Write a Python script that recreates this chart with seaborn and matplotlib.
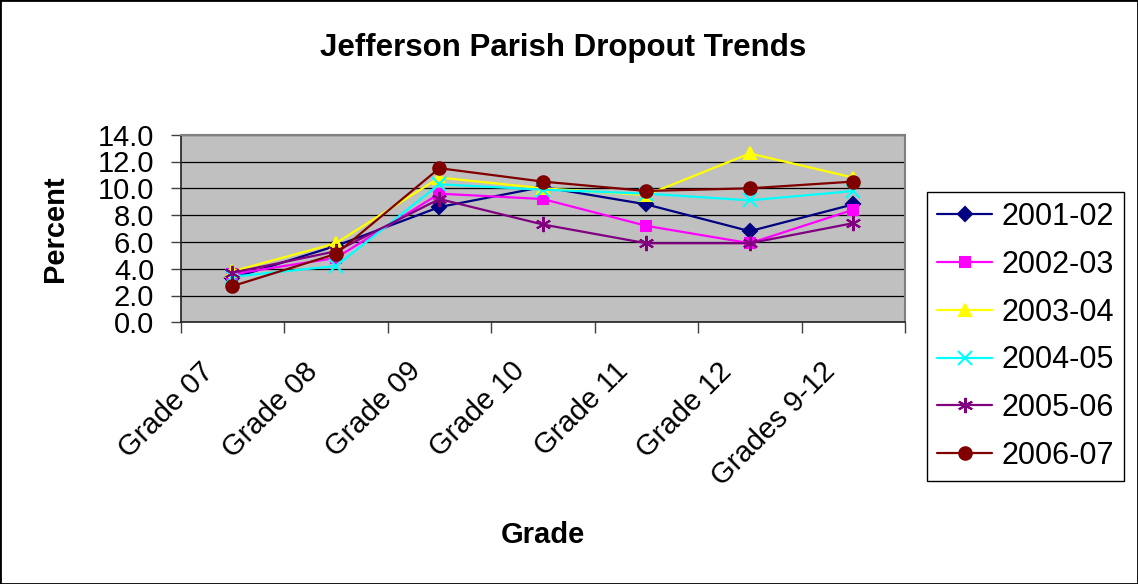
import numpy as np
import pandas as pd
import matplotlib
matplotlib.use("Agg")
import matplotlib.pyplot as plt
import seaborn as sns
from matplotlib.patches import Rectangle
from matplotlib.transforms import ScaledTranslation

# dati
grades = ['Grade 07', 'Grade 08', 'Grade 09', 'Grade 10', 'Grade 11', 'Grade 12', 'Grades 9-12']
years = ['2001-02', '2002-03', '2003-04', '2004-05', '2005-06', '2006-07']

y2001 = [3.3, 5.7, 8.6, 10.1, 8.8, 6.8, 8.8]
y2002 = [3.6, 4.8, 9.6, 9.2, 7.2, 5.9, 8.4]
y2003 = [3.8, 5.9, 10.8, 10.0, 9.5, 12.6, 10.8]
y2004 = [3.4, 4.2, 10.3, 9.9, 9.6, 9.1, 9.8]
y2005 = [3.7, 5.3, 9.2, 7.3, 5.9, 5.9, 7.4]
y2006 = [2.7, 5.1, 11.5, 10.5, 9.8, 10.0, 10.5]

series = [y2001, y2002, y2003, y2004, y2005, y2006]
colors = ['#000080', '#FF00FF', '#FFFF00', '#00FFFF', '#800080', '#800000']
markers = ['D', 's', '^', 'x', (6, 2, 0), 'o']
msizes = [7, 7.5, 9, 10, 11, 9]

sns.set_theme(style='white')
plt.rcParams['font.family'] = ['Liberation Sans', 'DejaVu Sans']
plt.rcParams['text.color'] = 'black'
plt.rcParams['xtick.color'] = 'black'
plt.rcParams['ytick.color'] = 'black'
plt.rcParams['axes.labelcolor'] = 'black'

fig = plt.figure(figsize=(11.38, 5.84), dpi=100)
ax = fig.add_axes([180.7 / 1138, 1 - 322.3 / 584, (905 - 180.7) / 1138, (322.3 - 134.7) / 584])
ax.set_facecolor('#C0C0C0')

for yr, vals, c, m, ms in zip(years, series, colors, markers, msizes):
    df = pd.DataFrame({'Grade': np.arange(len(grades)), 'Percent': vals})
    sns.lineplot(data=df, x='Grade', y='Percent', ax=ax, color=c, marker=m,
                 markersize=ms, markeredgecolor=c, markeredgewidth=1.5,
                 linewidth=1.6, label=yr, zorder=3)

# asse y
ax.set_ylim(0, 14)
ax.set_yticks(np.arange(0, 15, 2))
ax.set_yticklabels([f'{v:.1f}' for v in np.arange(0, 15, 2)], fontsize=21)
ax.yaxis.grid(True, color='black', linewidth=0.9)
ax.set_axisbelow(True)

# asse x: tacche ai bordi delle categorie, etichette al centro
ax.set_xlim(-0.5, len(grades) - 0.5)
ax.set_xticks(np.arange(-0.5, len(grades), 1.0))
ax.set_xticklabels([])
ax.set_xticks(np.arange(len(grades)), minor=True)
ax.set_xticklabels(grades, minor=True, rotation=45, ha='right', fontsize=21)
ax.tick_params(axis='x', which='minor', length=0, pad=25)
ax.tick_params(axis='x', which='major', direction='out', length=8, width=1, color='#404040', bottom=True)
ax.tick_params(axis='y', direction='out', length=7, width=1, color='#404040', left=True, pad=12)
off = ScaledTranslation(-13 / 100, 0, fig.dpi_scale_trans)
for lab in ax.get_xticklabels(minor=True):
    lab.set_transform(lab.get_transform() + off)

for s in ['left', 'bottom']:
    ax.spines[s].set_color('#202020')
    ax.spines[s].set_linewidth(1.2)
for s in ['top', 'right']:
    ax.spines[s].set_color('#808080')
    ax.spines[s].set_linewidth(1.5)

ax.set_xlabel('')
ax.set_ylabel('')
fig.text(55 / 1138, 1 - 229 / 584, 'Percent', rotation=90, ha='center', va='center',
         fontsize=21, fontweight='bold')
fig.text(543 / 1138, 1 - 535 / 584, 'Grade', ha='center', va='center',
         fontsize=21, fontweight='bold')
fig.text(563 / 1138, 1 - 48 / 584, 'Jefferson Parish Dropout Trends', ha='center', va='center',
         fontsize=22.5, fontweight='bold')

ax.get_legend().remove()
handles, labels = ax.get_legend_handles_labels()
leg = fig.legend(handles, labels, loc='upper left',
                 bbox_to_anchor=(927 / 1138, 1 - 192 / 584),
                 fontsize=22, frameon=True, fancybox=False, framealpha=1,
                 edgecolor='black', handlelength=1.8, handletextpad=0.3,
                 labelspacing=0.58, borderpad=0.33, borderaxespad=0)
leg.get_frame().set_linewidth(1.0)

fig.patches.append(Rectangle((0, 0), 1, 1, transform=fig.transFigure, fill=False,
                             edgecolor='black', linewidth=2))

fig.savefig('out.png', dpi=100)
